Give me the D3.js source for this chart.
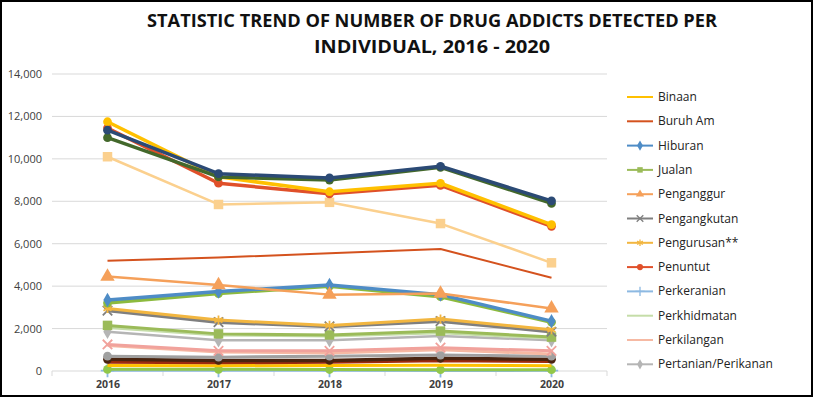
<!DOCTYPE html>
<html>
<head>
<meta charset="utf-8">
<script src="https://cdn.jsdelivr.net/npm/d3@7"></script>
<style>
  body { margin: 0; background: #fff; }
  text { font-family: "Open Sans", "Noto Sans", sans-serif; }
</style>
</head>
<body>
<script>
// data
var years = ['2016', '2017', '2018', '2019', '2020'];
var yTicks = [0, 2000, 4000, 6000, 8000, 10000, 12000, 14000];
var titleLines = ['STATISTIC TREND OF NUMBER OF DRUG ADDICTS DETECTED PER', 'INDIVIDUAL, 2016 - 2020'];

// only the first 12 names fit in the legend of the original
var seriesNames = [
  'Binaan', 'Buruh Am', 'Hiburan', 'Jualan', 'Penganggur', 'Pengangkutan',
  'Pengurusan**', 'Penuntut', 'Perkeranian', 'Perkhidmatan', 'Perkilangan',
  'Pertanian/Perikanan',
  'Perniagaan', 'Persendirian', 'Profesional', 'Tidak Bekerja', 'Teknikal',
  'Perikanan Laut', 'Perhotelan', 'Keselamatan', 'Lain-lain', 'Tidak Dinyatakan'
];
var seriesValues = [
  [260, 250, 260, 270, 250],          // Binaan
  [5200, 5350, 5550, 5750, 4400],     // Buruh Am
  [3350, 3750, 4050, 3600, 2350],     // Hiburan
  [2150, 1750, 1700, 1880, 1600],     // Jualan
  [4450, 4050, 3600, 3650, 2950],     // Penganggur
  [2850, 2300, 2100, 2350, 1850],     // Pengangkutan
  [2950, 2400, 2150, 2450, 1950],     // Pengurusan**
  [11450, 8850, 8350, 8750, 6820],    // Penuntut
  [20, 20, 20, 10, 20],               // Perkeranian
  [2050, 1700, 1650, 1800, 1550],     // Perkhidmatan
  [1200, 900, 850, 1000, 800],        // Perkilangan
  [1850, 1450, 1450, 1650, 1450],     // Pertanian/Perikanan
  [11750, 9150, 8450, 8850, 6900],
  [11350, 9300, 9100, 9650, 8020],
  [11000, 9150, 9000, 9600, 7900],
  [10100, 7850, 7950, 6950, 5100],
  [3200, 3650, 4000, 3500, 2300],
  [1250, 950, 950, 1100, 950],
  [700, 650, 700, 750, 700],
  [550, 500, 500, 600, 550],
  [420, 400, 420, 500, 460],
  [80, 80, 70, 60, 60]
];

// styles, same order as the names
var colours = [
  '#FFC000', '#D4521E', '#4E8CC6', '#9BBB59', '#F5A05A', '#7F7F7F',
  '#F2B640', '#E0502A', '#8DB9E2', '#C5DDA8', '#F6B9A3', '#B5B5B5',
  '#FFC000', '#2B4A75', '#43682B', '#FBD08E', '#8CBA3E', '#F1A29C',
  '#A0A0A0', '#4A2410', '#9E2A0E', '#92C84A'
];
var markers = [
  'none', 'none', 'diamond', 'square', 'triangle', 'x',
  'star', 'circle', 'cross', 'none', 'none', 'diamond',
  'circle', 'circle', 'circle', 'square', 'circle', 'x',
  'circle', 'circle', 'none', 'circle'
];
var widths = [
  3, 2, 3.5, 3, 2.5, 3.5,
  3, 3.5, 2.5, 3, 3, 2.5,
  3.5, 3.5, 3.5, 2.5, 3.5, 3,
  3, 3.5, 3.5, 3
];

var w = 815;
var h = 398;

var svg = d3.select('body')
  .append('svg')
  .attr('width', w)
  .attr('height', h);

svg.append('rect')
  .attr('x', 1).attr('y', 1)
  .attr('width', 811).attr('height', 395)
  .attr('fill', '#fff')
  .attr('stroke', '#000')
  .attr('stroke-width', 2);

var xScale = d3.scalePoint()
  .domain(years)
  .range([52, 607])
  .padding(0.5);

var yScale = d3.scaleLinear()
  .domain([0, 14000])
  .range([371, 74]);

// title
svg.append('g').selectAll('text')
  .data(titleLines)
  .enter()
  .append('text')
  .attr('x', 432)
  .attr('y', function(d, i) { return 27 + i * 26; })
  .attr('text-anchor', 'middle')
  .attr('font-size', '17px')
  .attr('font-weight', 'bold')
  .attr('textLength', function(d, i) { return i === 0 ? 570 : 236; })
  .attr('lengthAdjust', 'spacingAndGlyphs')
  .attr('fill', '#111')
  .text(function(d) { return d; });

// gridlines
svg.append('g')
  .selectAll('line')
  .data(yTicks.slice(1))
  .enter()
  .append('line')
  .attr('x1', 52).attr('x2', 607)
  .attr('y1', function(d) { return yScale(d); })
  .attr('y2', function(d) { return yScale(d); })
  .attr('stroke', '#D9D9D9')
  .attr('stroke-width', 1);

var yAxis = d3.axisLeft(yScale)
  .tickValues(yTicks)
  .tickSize(0)
  .tickPadding(10)
  .tickFormat(d3.format(','));

var gy = svg.append('g')
  .attr('transform', 'translate(52,0)')
  .call(yAxis);
gy.select('.domain').remove();
gy.selectAll('text')
  .attr('font-size', '11px')
  .attr('fill', '#404040');

var xAxis = d3.axisBottom(xScale).tickSize(0).tickPadding(10);
var gx = svg.append('g')
  .attr('transform', 'translate(0,371)')
  .call(xAxis);
gx.select('.domain').attr('stroke', '#D9D9D9').attr('d', 'M52,0H607');
gx.selectAll('text')
  .attr('font-size', '10.5px')
  .attr('font-weight', 'bold')
  .attr('fill', '#404040');

// category separators on the x axis
var step = xScale.step();
svg.append('g')
  .selectAll('line')
  .data(d3.range(6))
  .enter()
  .append('line')
  .attr('x1', function(d) { return 52 + d * step; })
  .attr('x2', function(d) { return 52 + d * step; })
  .attr('y1', 371).attr('y2', 376)
  .attr('stroke', '#D9D9D9');

var symbolFor = {
  circle: d3.symbolCircle,
  diamond: d3.symbolDiamond,
  square: d3.symbolSquare,
  triangle: d3.symbolTriangle,
  x: d3.symbolX,
  star: d3.symbolAsterisk,
  cross: d3.symbolPlus
};

function isOpen(m) { return m === 'star' || m === 'cross' || m === 'x'; }

var line = d3.line()
  .x(function(d, i) { return xScale(years[i]); })
  .y(function(d) { return yScale(d); });

// draw lowest series first so the big ones sit on top
var order = d3.range(seriesNames.length).sort(function(a, b) {
  return d3.mean(seriesValues[a]) - d3.mean(seriesValues[b]);
});

var plot = svg.append('g');
order.forEach(function(k) {
  var g = plot.append('g');
  g.append('path')
    .attr('d', line(seriesValues[k]))
    .attr('fill', 'none')
    .attr('stroke', colours[k])
    .attr('stroke-width', widths[k])
    .attr('stroke-linejoin', 'round');
  if (markers[k] !== 'none') {
    var sym = d3.symbol().type(symbolFor[markers[k]])
      .size(markers[k] === 'square' || markers[k] === 'triangle' ? 90 : 60);
    g.selectAll('path.m')
      .data(seriesValues[k])
      .enter()
      .append('path')
      .attr('class', 'm')
      .attr('d', sym)
      .attr('transform', function(d, i) {
        return 'translate(' + xScale(years[i]) + ',' + yScale(d) + ')';
      })
      .attr('fill', isOpen(markers[k]) ? 'none' : colours[k])
      .attr('stroke', isOpen(markers[k]) ? colours[k] : 'none')
      .attr('stroke-width', 1.8);
  }
});

// legend, only the first 12 entries
var legend = svg.append('g')
  .selectAll('g')
  .data(seriesNames.slice(0, 12))
  .enter()
  .append('g')
  .attr('transform', function(d, i) {
    return 'translate(627,' + (97 + i * 24.3) + ')';
  });

legend.append('line')
  .attr('x1', 0).attr('x2', 26)
  .attr('y1', 0).attr('y2', 0)
  .attr('stroke', function(d, i) { return colours[i]; })
  .attr('stroke-width', 2);

legend.each(function(d, i) {
  if (markers[i] === 'none') return;
  d3.select(this).append('path')
    .attr('d', d3.symbol().type(symbolFor[markers[i]]).size(30)())
    .attr('transform', 'translate(13,0)')
    .attr('fill', isOpen(markers[i]) ? 'none' : colours[i])
    .attr('stroke', isOpen(markers[i]) ? colours[i] : 'none')
    .attr('stroke-width', 1.3);
});

legend.append('text')
  .attr('x', 31)
  .attr('y', 4)
  .attr('font-size', '12px')
  .attr('fill', '#222')
  .text(function(d) { return d; });
</script>
</body>
</html>
